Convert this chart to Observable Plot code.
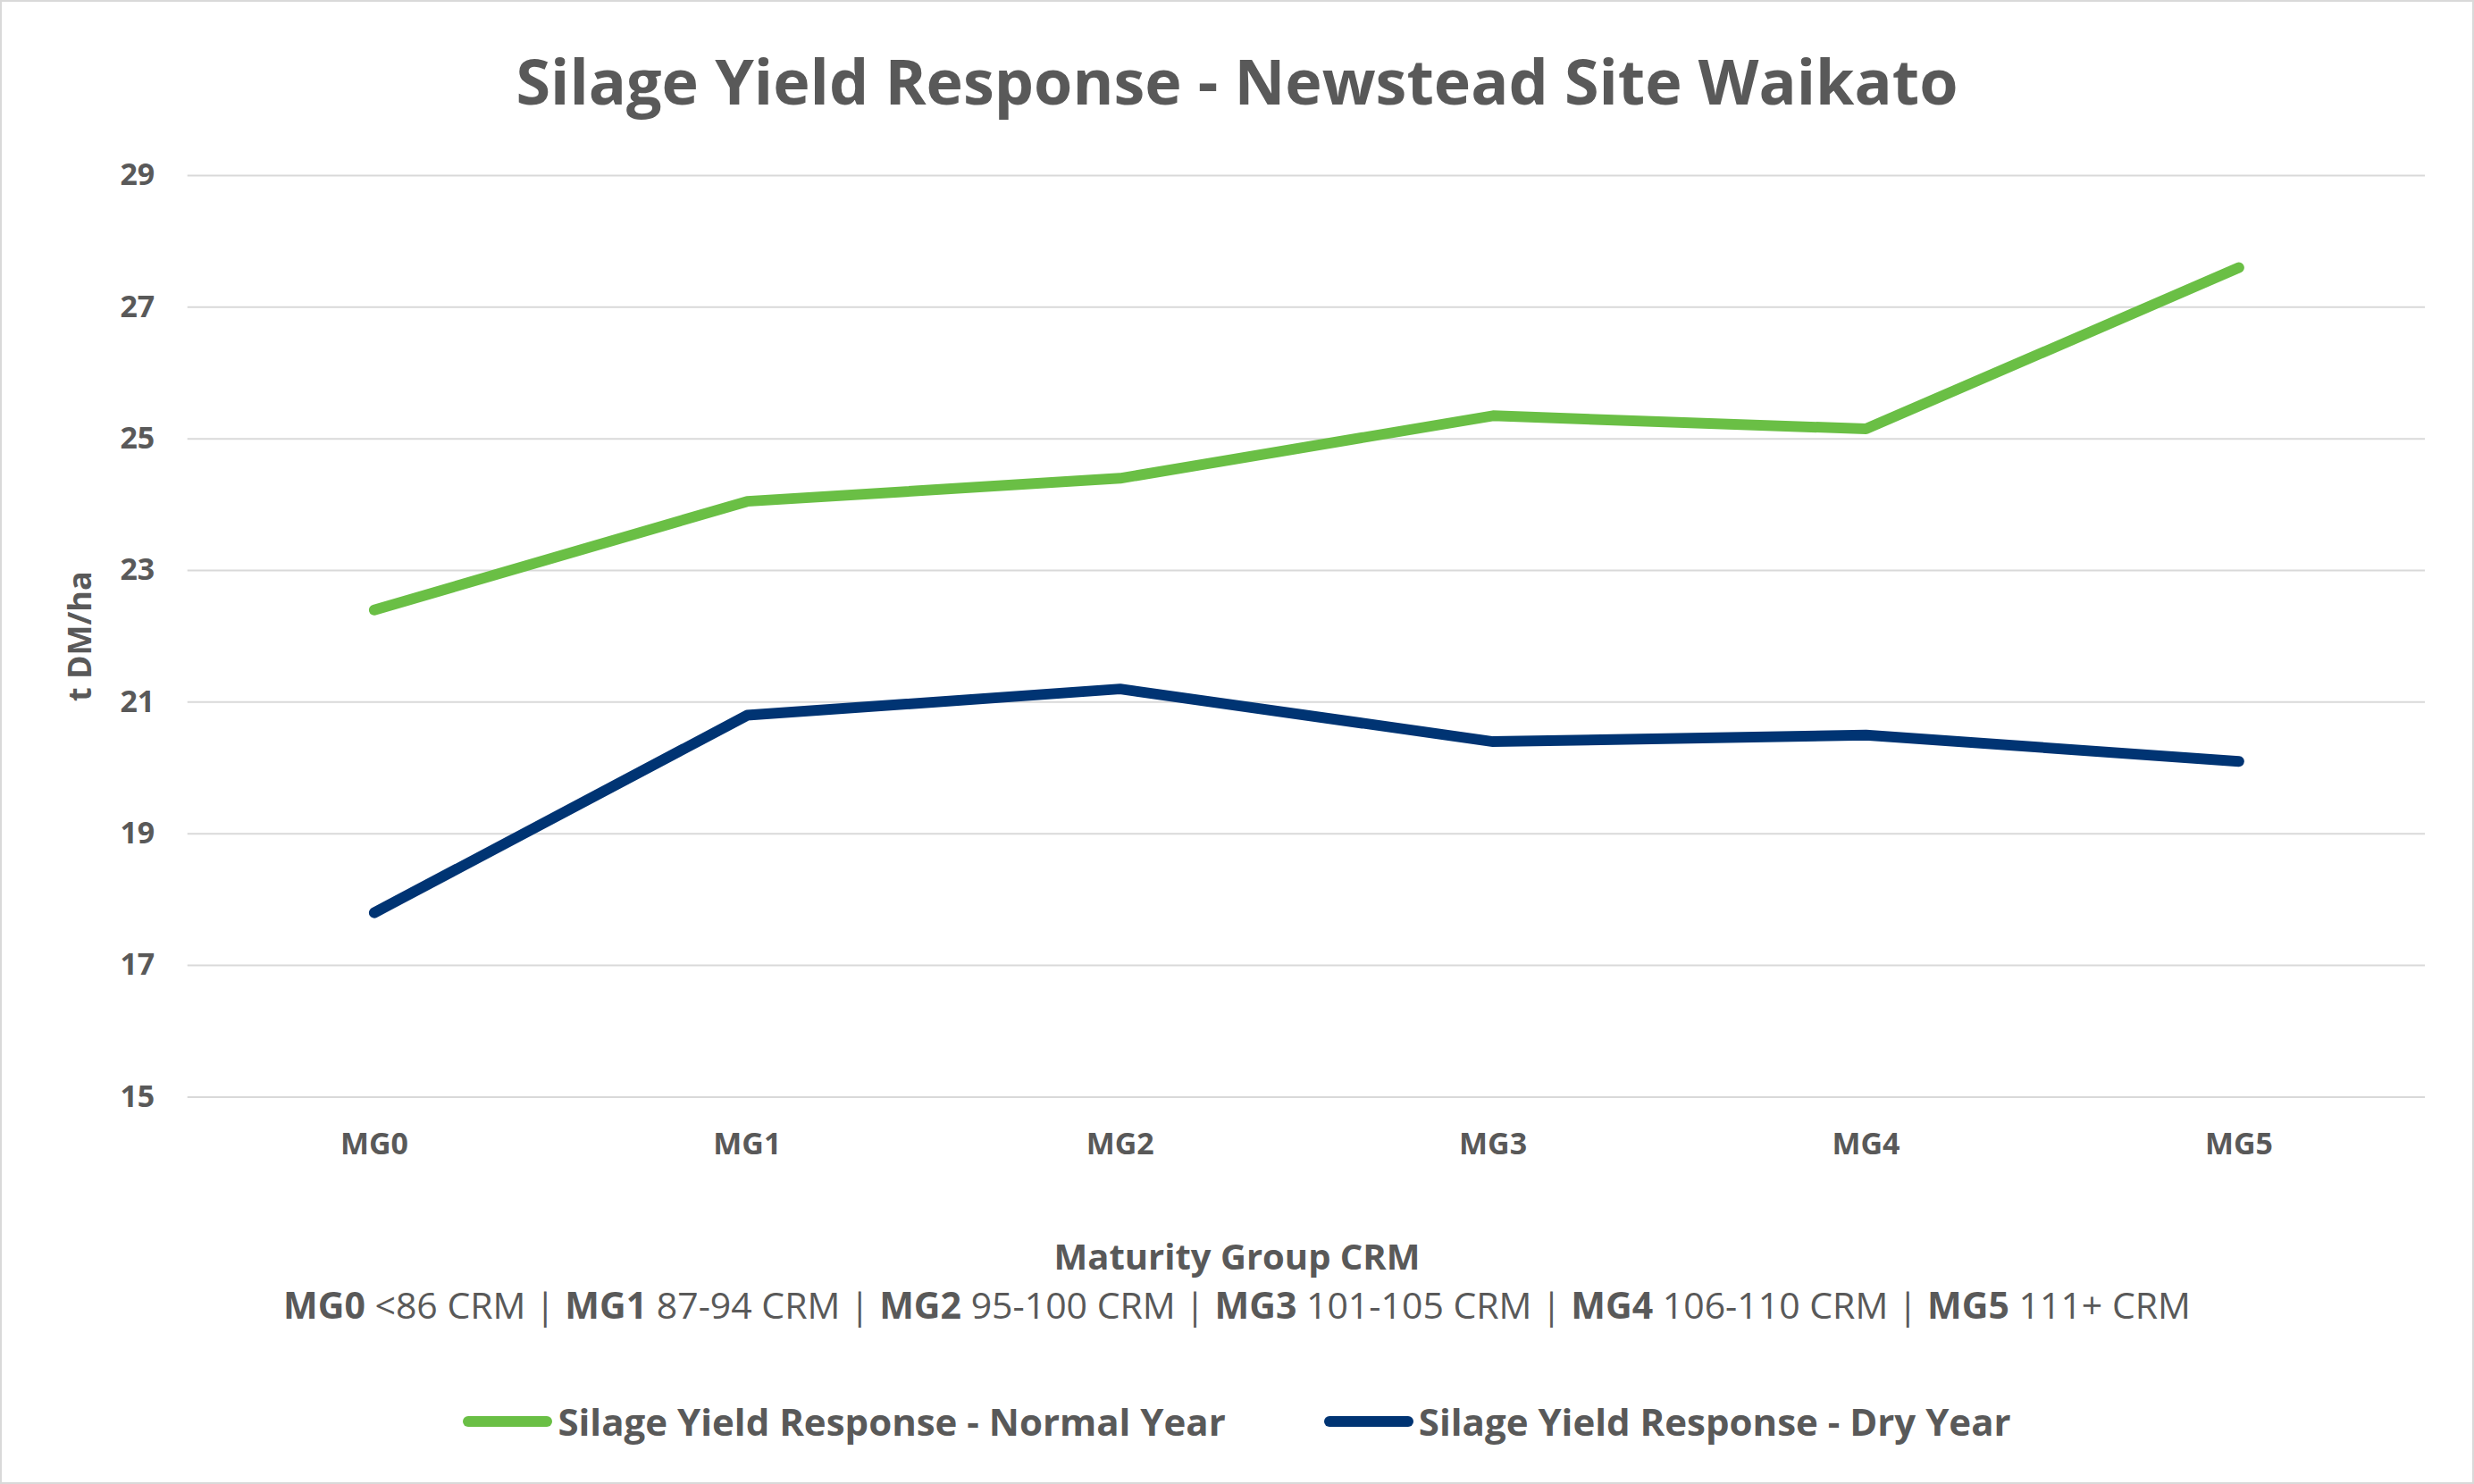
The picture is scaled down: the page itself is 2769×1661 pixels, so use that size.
<!DOCTYPE html>
<html><head><meta charset="utf-8">
<script src="https://cdn.jsdelivr.net/npm/d3@7"></script>
<script src="https://cdn.jsdelivr.net/npm/@observablehq/plot@0.6"></script>
<style>
body{margin:0;background:#fff;font-family:"Open Sans",sans-serif;}
#wrap{position:relative;width:2765px;height:1657px;border:2px solid #d9d9d9;overflow:hidden;}
#title{position:absolute;top:40px;width:100%;text-align:center;font-size:70px;font-weight:bold;color:#595959;}
#chart{position:absolute;top:150px;left:0;}
.t{position:absolute;width:100%;text-align:center;color:#595959;}
#xt{top:1376px;font-size:40px;font-weight:bold;}
#sub{top:1430px;font-size:41px;}
#leg{top:1560px;font-size:42px;font-weight:bold;display:flex;justify-content:center;gap:110px;}
.li{display:flex;align-items:center;}
.sw{width:100px;height:12px;border-radius:6px;margin-right:6px;}
</style></head><body>
<div id="wrap">
<div id="title">Silage Yield Response - Newstead Site Waikato</div>
<div id="chart"></div>
<div class="t" id="xt">Maturity Group CRM</div>
<div class="t" id="sub"><b>MG0</b> &lt;86 CRM | <b>MG1</b> 87-94 CRM | <b>MG2</b> 95-100 CRM | <b>MG3</b> 101-105 CRM | <b>MG4</b> 106-110 CRM | <b>MG5</b> 111+ CRM</div>
<div class="t" id="leg">
<div class="li"><div class="sw" style="background:#6abf45"></div>Silage Yield Response - Normal Year</div>
<div class="li"><div class="sw" style="background:#003473"></div>Silage Yield Response - Dry Year</div>
</div>
</div>
<script>
const categories=["MG0","MG1","MG2","MG3","MG4","MG5"];
const normalYear=[22.4,24.05,24.4,25.35,25.15,27.6];
const dryYear=[17.8,20.8,21.2,20.4,20.5,20.1];
const yTicks=[15,17,19,21,23,25,27,29];
const normal=categories.map((c,i)=>({c,v:normalYear[i]}));
const dry=categories.map((c,i)=>({c,v:dryYear[i]}));
const chart=Plot.plot({
 width:2769,height:1180,marginTop:44,marginBottom:103,marginLeft:208,marginRight:53,
 style:{fontFamily:"Open Sans",fontSize:"34px",fontWeight:"bold",color:"#595959",background:"transparent"},
 x:{type:"point",domain:categories,padding:0.5,label:null,tickSize:0,tickPadding:40},
 y:{domain:[15,29],ticks:yTicks,label:null,tickSize:0,tickPadding:37},
 marks:[
  Plot.gridY(yTicks,{stroke:"#d9d9d9",strokeOpacity:1,strokeWidth:2}),
  Plot.line(normal,{x:"c",y:"v",stroke:"#6abf45",strokeWidth:12,strokeLinecap:"round",strokeLinejoin:"round"}),
  Plot.line(dry,{x:"c",y:"v",stroke:"#003473",strokeWidth:12,strokeLinecap:"round",strokeLinejoin:"round"}),
  Plot.text(["t DM/ha"],{frameAnchor:"left",textAnchor:"middle",dx:-120,rotate:-90,fontSize:36,fontWeight:"bold",fill:"#595959"})
 ]
});
document.getElementById("chart").append(chart);
</script>
</body></html>
